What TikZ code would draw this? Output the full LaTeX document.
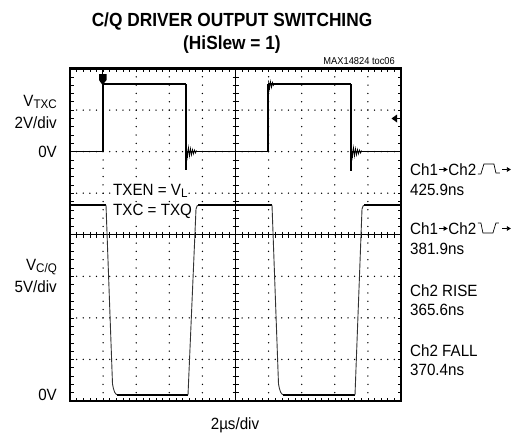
\documentclass[tikz,border=0pt]{standalone}
\usepackage{fontspec}
\setmainfont{Liberation Sans}
\newfontfamily\labfont[FakeStretch=0.93]{Liberation Sans}
\newfontfamily\titfont[FakeStretch=0.91]{Liberation Sans}
\usetikzlibrary{arrows.meta,calc}
\newcommand{\subtxt}[1]{\raisebox{-2.6pt}{\fontsize{12.5}{12}\selectfont #1}}
\begin{document}
\begin{tikzpicture}[x=1pt,y=-1pt,
  lab/.style={font=\labfont\fontsize{16.3}{18}\selectfont, inner sep=0pt},
  small/.style={font=\labfont\fontsize{10}{12}\selectfont, inner sep=0pt},
  titl/.style={font=\titfont\bfseries\fontsize{19}{22}\selectfont, inner sep=0pt},
  trace/.style={line width=1.8pt},
  edge/.style={line width=1.1pt},
  qedge/.style={line width=0.9pt, black!80},
  ring/.style={line width=0.7pt},
  frm/.style={line width=2.2pt},
  tick/.style={line width=0.6pt},
  arr/.style={line width=0.7pt, -{Triangle[length=4pt,width=4.5pt]}},
  sym/.style={line width=0.7pt}]
\useasboundingbox (0,0) rectangle (530,434);
\def\L{70}\def\R{401}\def\T{68.5}\def\B{401}
\def\dx{33.1}\def\dy{41.5625}
% dotted grid
\foreach \k in {1,2,3,5,6,7}{
  \foreach \i in {1,...,49}{
    \fill ({\L+\i*\dx/5},{\T+\k*\dy}) circle (0.75);
  }
}
\foreach \k in {1,2,3,4,6,7,8,9}{
  \foreach \i in {1,...,39}{
    \fill ({\L+\k*\dx},{\T+\i*\dy/5}) circle (0.75);
  }
}
% centre axes with ticks
\draw[tick] (\L,{\T+4*\dy}) -- (\R,{\T+4*\dy});
\draw[tick] ({\L+5*\dx},\T) -- ({\L+5*\dx},\B);
\foreach \i in {1,...,49}{
  \draw[tick] ({\L+\i*\dx/5},{\T+4*\dy-3}) -- ({\L+\i*\dx/5},{\T+4*\dy+3});
  \draw[tick] ({\L+\i*\dx/5},\T) -- ({\L+\i*\dx/5},{\T+3.5});
  \draw[tick] ({\L+\i*\dx/5},\B) -- ({\L+\i*\dx/5},{\B-3.5});
}
\foreach \i in {1,...,39}{
  \draw[tick] ({\L+5*\dx-3},{\T+\i*\dy/5}) -- ({\L+5*\dx+3},{\T+\i*\dy/5});
  \draw[tick] (\L,{\T+\i*\dy/5}) -- ({\L+3.5},{\T+\i*\dy/5});
  \draw[tick] (\R,{\T+\i*\dy/5}) -- ({\R-3.5},{\T+\i*\dy/5});
}
% TXC trace
\draw[trace] (\L,151.5) -- (103,151.5);
\draw[edge] (103,151.5) -- (103,84);
\draw[trace] (103,84) -- (186,84);
\draw[edge] (186,84) -- (186,170);
\draw[trace] (186,151.5) -- (268,151.5);
\draw[edge] (268,151.5) -- (268,84);
\draw[trace] (268,84) -- (351,84);
\draw[edge] (351,84) -- (351,171);
\draw[trace] (351,151.5) -- (\R,151.5);
\draw[ring] (186.5,147) -- (187.5,157) -- (188.5,147.5) -- (189.5,156) -- (190.5,148.5) -- (191.5,155) -- (192.5,149.5) -- (193.5,154) -- (194.5,150) -- (195.5,153) -- (196.5,150.5);
\draw[ring] (351.5,147) -- (352.5,157) -- (353.5,147.5) -- (354.5,156) -- (355.5,148.5) -- (356.5,155) -- (357.5,149.5) -- (358.5,154) -- (359.5,150) -- (360.5,153) -- (361.5,150.5);
\draw[ring] (268.5,80.5) -- (269.5,89) -- (270.5,81.5) -- (271.5,87.5) -- (272.5,82.5) -- (273.5,86);
% C/Q trace
\draw[trace] (\L,205) -- (106,205);
\draw[qedge] (106,205) -- (112.5,384) .. controls (114,392) and (115,394.5) .. (118,395);
\draw[trace] (117,395) -- (188,395);
\draw[qedge] (188,395) -- (196,209) .. controls (196.5,206) and (197.5,205) .. (199,205);
\draw[trace] (198,205) -- (272,205);
\draw[qedge] (272,205) -- (278.5,384) .. controls (280,392) and (281,394.5) .. (284,395);
\draw[trace] (283,395) -- (355,395);
\draw[qedge] (355,395) -- (362,209) .. controls (362.5,206) and (363.5,205) .. (365,205);
\draw[trace] (364,205) -- (\R,205);
% trigger markers
\draw[line width=0.8pt] (102.5,\T) -- (102.5,74);
\fill (99,74) -- (106.5,74) -- (106.5,80) -- (102.5,85) -- (99,80) -- cycle;
\fill (391.5,118.5) -- (397,114.5) -- (397,122.5) -- cycle;
\draw[line width=0.8pt] (397,118.5) -- (\R,118.5);
% frame
\draw[frm] (\L,\T) rectangle (\R,\B);
% titles
\node[titl, anchor=base] (t1) at (232,26) {C/Q DRIVER OUTPUT SWITCHING};
\node[titl, anchor=base] (t2) at (232,49) {(HiSlew = 1)};
\node[small, anchor=base east] (toc) at (395,64) {MAX14824 toc06};
% left labels
\node[lab, anchor=base east] (vtxc) at (57,106) {V\subtxt{TXC}};
\node[lab, anchor=base east] (v2) at (57,128) {2V/div};
\node[lab, anchor=base east] (z1) at (57,157) {0V};
\node[lab, anchor=base east] (vcq) at (57,270) {V\subtxt{C/Q}};
\node[lab, anchor=base east] (v5) at (57,292) {5V/div};
\node[lab, anchor=base east] (z2) at (57,400) {0V};
\node[lab, anchor=base] (tdiv) at (235,429) {2µs/div};
% inner labels
\node[lab, anchor=base west, fill=white, inner sep=1pt] (txen) at (112,195) {TXEN = V\subtxt{L}};
\node[lab, anchor=base west, fill=white, inner sep=1pt] (txc) at (112,215) {TXC = TXQ};
% right labels
\node[lab, anchor=base west] (a1) at (410,175) {Ch1};
\draw[arr] ($(a1.base east)+(1,-5.5)$) -- ++(8.5,0);
\node[lab, anchor=base west] (a2) at ($(a1.base east)+(10,0)$) {Ch2};
\draw[sym] ($(a2.base east)+(1.5,-1)$) -- ++(3,0) -- ++(3,-10) -- ++(10,0) -- ++(2,9) -- ++(4,0);
\draw[arr] ($(a2.base east)+(26,-5.5)$) -- ++(8.5,0);
\node[lab, anchor=base west] (m1) at (410,195) {425.9ns};
\node[lab, anchor=base west] (b1) at (410,234) {Ch1};
\draw[arr] ($(b1.base east)+(1,-5.5)$) -- ++(8.5,0);
\node[lab, anchor=base west] (b2) at ($(b1.base east)+(10,0)$) {Ch2};
\draw[sym] ($(b2.base east)+(1.5,-11)$) -- ++(3,0) -- ++(2,10) -- ++(10,0) -- ++(3,-10) -- ++(3,0);
\draw[arr] ($(b2.base east)+(26,-5.5)$) -- ++(8.5,0);
\node[lab, anchor=base west] (m2) at (410,254) {381.9ns};
\node[lab, anchor=base west] (r1) at (410,296) {Ch2 RISE};
\node[lab, anchor=base west] (r2) at (410,315) {365.6ns};
\node[lab, anchor=base west] (f1) at (410,356) {Ch2 FALL};
\node[lab, anchor=base west] (f2) at (410,375) {370.4ns};
\end{tikzpicture}
\end{document}
